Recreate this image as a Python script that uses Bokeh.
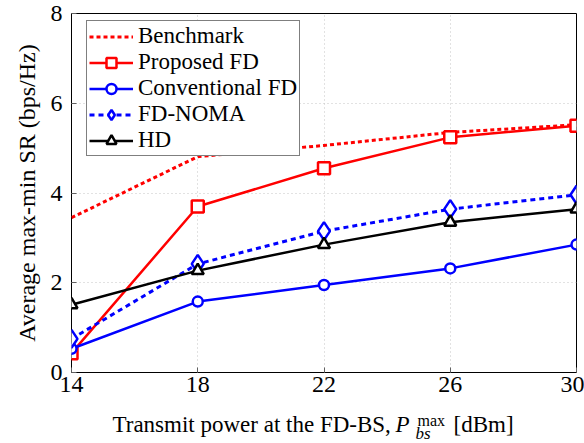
from bokeh.plotting import figure
from bokeh.layouts import column
from bokeh.models import Legend, LegendItem, FixedTicker, Range1d
from bokeh.core.properties import value
from bokeh.embed import file_html
from bokeh.resources import INLINE

# Transmit power at the FD-BS (dBm) and average max-min SR (bps/Hz) per scheme
power_dbm = [14, 18, 22, 26, 30]
benchmark = [3.45, 4.81, 5.06, 5.35, 5.52]
proposed_fd = [0.43, 3.70, 4.55, 5.24, 5.50]
conventional_fd = [0.53, 1.58, 1.95, 2.32, 2.85]
fd_noma = [0.75, 2.42, 3.15, 3.64, 3.96]
hd = [1.51, 2.27, 2.85, 3.35, 3.64]

x_ticks = [14, 18, 22, 26, 30]
y_ticks = [0, 2, 4, 6, 8]

SERIF = "Liberation Serif"
RED = "#ff0000"
BLUE = "#0000ff"

W = 584
MAIN_H = 405          # chart with tick labels
TITLE_H = 38          # strip holding the x-axis title
LEFT, RIGHT = 71, 8   # side borders shared by both figures

p = figure(
    width=W, height=MAIN_H,
    x_range=Range1d(14, 30), y_range=Range1d(0, 8),
    output_backend="svg", toolbar_location=None,
    min_border_left=LEFT, min_border_right=RIGHT,
    min_border_top=13, min_border_bottom=33,
    background_fill_color="white", border_fill_color="white",
)
p.outline_line_color = "black"
p.outline_line_width = 1

# dotted grid at every major tick
for g in (p.xgrid, p.ygrid):
    g.grid_line_color = "#c4c4c4"
    g.grid_line_dash = "1 3"
    g.grid_line_width = 1
p.xgrid.ticker = FixedTicker(ticks=x_ticks)
p.ygrid.ticker = FixedTicker(ticks=y_ticks)

xaxis = p.below[0]
yaxis = p.left[0]
for ax, ticks in ((xaxis, x_ticks), (yaxis, y_ticks)):
    ax.ticker = FixedTicker(ticks=ticks)
    ax.axis_line_color = None
    ax.major_tick_in = 5
    ax.major_tick_out = 0
    ax.major_tick_line_color = "#606060"
    ax.minor_tick_line_color = None
    ax.major_label_text_font = SERIF
    ax.major_label_text_font_size = "24px"
    ax.major_label_text_color = "black"
xaxis.major_label_standoff = 4
yaxis.major_label_standoff = 9

yaxis.axis_label = "Average max-min SR (bps/Hz)"
yaxis.axis_label_text_font = SERIF
yaxis.axis_label_text_font_size = "24px"
yaxis.axis_label_text_font_style = "normal"
yaxis.axis_label_text_color = "black"
yaxis.axis_label_standoff = 8

# series
r_bench = p.line(power_dbm, benchmark, line_color=RED, line_width=3, line_dash="4 3")

r_prop_l = p.line(power_dbm, proposed_fd, line_color=RED, line_width=2.5)
r_prop_m = p.scatter(power_dbm, proposed_fd, marker="square", size=12,
                     line_color=RED, line_width=2.5, fill_color="white")

r_conv_l = p.line(power_dbm, conventional_fd, line_color=BLUE, line_width=2.5)
r_conv_m = p.scatter(power_dbm, conventional_fd, marker="circle", size=10,
                     line_color=BLUE, line_width=2.5, fill_color="white")

r_noma_l = p.line(power_dbm, fd_noma, line_color=BLUE, line_width=3, line_dash="5 4")
r_noma_m = p.scatter(power_dbm, fd_noma, marker="diamond", size=18,
                     line_color=BLUE, line_width=2.5, fill_color="white")

r_hd_l = p.line(power_dbm, hd, line_color="black", line_width=2.5)
r_hd_m = p.scatter(power_dbm, hd, marker="triangle", size=12,
                   line_color="black", line_width=2.5, fill_color="white")

legend = Legend(
    items=[
        LegendItem(label="Benchmark", renderers=[r_bench]),
        LegendItem(label="Proposed FD", renderers=[r_prop_l, r_prop_m]),
        LegendItem(label="Conventional FD", renderers=[r_conv_l, r_conv_m]),
        LegendItem(label="FD-NOMA", renderers=[r_noma_l, r_noma_m]),
        LegendItem(label="HD", renderers=[r_hd_l, r_hd_m]),
    ],
    location=(15, 216),
    orientation="vertical",
    label_text_font=SERIF,
    label_text_font_size="23px",
    label_text_color="black",
    label_height=25,
    glyph_height=25,
    glyph_width=44,
    label_standoff=5,
    spacing=0,
    padding=2,
    margin=0,
    border_line_color="black",
    border_line_width=1,
    background_fill_color="white",
    background_fill_alpha=1.0,
)
p.add_layout(legend)

# x-axis title strip: x in page pixels, y measured up from the strip's bottom
t = figure(
    width=W, height=TITLE_H,
    x_range=Range1d(LEFT, W - RIGHT), y_range=Range1d(0, TITLE_H),
    output_backend="svg", toolbar_location=None,
    x_axis_location=None, y_axis_location=None,
    min_border_left=LEFT, min_border_right=RIGHT,
    min_border_top=0, min_border_bottom=0,
    background_fill_color="white", border_fill_color="white",
)
t.grid.visible = False
t.outline_line_color = None


def title_piece(text, x, y, size, style="normal"):
    t.text(x=[x], y=[y], text=[text],
           text_font=value(SERIF), text_font_size=value(size),
           text_font_style=style, text_color="black",
           text_align="left", text_baseline="alphabetic")


title_piece("Transmit power at the FD-BS,", 112, 19, "23px")
title_piece("P", 395, 19, "23px", "italic")
title_piece("max", 417, 23, "16px")
title_piece("bs", 415, 10, "17px", "italic")
title_piece("[dBm]", 453, 19, "23px")

layout = column(p, t, spacing=0)
open("out.html", "w").write(file_html(layout, INLINE))
